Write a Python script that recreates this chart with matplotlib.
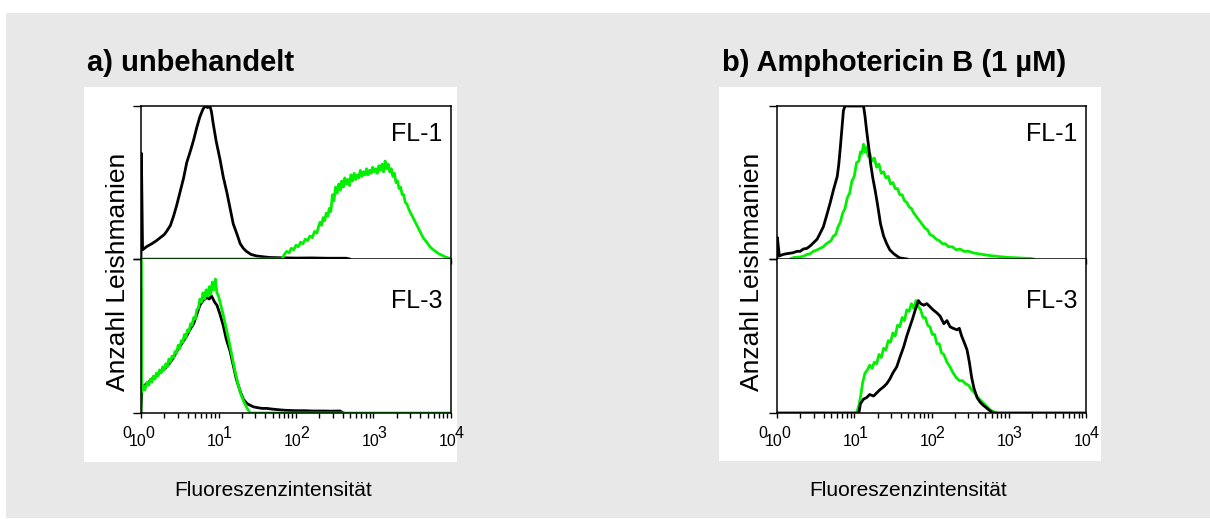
import matplotlib
matplotlib.use("Agg")
import matplotlib.pyplot as plt
import numpy as np
from matplotlib.patches import Rectangle
from matplotlib.transforms import offset_copy

plt.rcParams['font.family'] = ['Liberation Sans', 'DejaVu Sans']

# histogram traces, x in decades (log10 of intensity), y as fraction of panel height
# a) unbehandelt, FL-1
a1_black_x = [0, 0.005, 0.02, 0.07, 0.14, 0.2, 0.25, 0.3, 0.33, 0.38, 0.42, 0.46, 0.5, 0.55, 0.59, 0.64, 0.68, 0.72, 0.76, 0.8, 0.83, 0.86, 0.89, 0.91, 0.93, 0.97, 1.02, 1.06, 1.11, 1.15, 1.19, 1.24, 1.28, 1.32, 1.36, 1.42, 1.49, 1.57, 1.66, 1.8, 2.0, 2.2, 2.4, 2.65, 2.69]
a1_black_y = [0, 0.69, 0.06, 0.08, 0.10, 0.12, 0.14, 0.16, 0.18, 0.22, 0.28, 0.35, 0.43, 0.53, 0.63, 0.71, 0.78, 0.86, 0.93, 0.98, 1.0, 0.99, 1.0, 0.96, 0.89, 0.77, 0.65, 0.54, 0.43, 0.33, 0.23, 0.16, 0.10, 0.07, 0.05, 0.03, 0.02, 0.015, 0.01, 0.008, 0.006, 0.007, 0.005, 0.005, 0]
a1_green_x = [0, 1.82, 1.85, 1.88, 1.91, 1.94, 1.97, 2.0, 2.03, 2.06, 2.09, 2.12, 2.15, 2.18, 2.21, 2.24, 2.27,
              2.29, 2.31, 2.33, 2.35, 2.37, 2.39, 2.41, 2.43, 2.45, 2.47, 2.49, 2.51, 2.53, 2.55, 2.57, 2.59, 2.61, 2.63, 2.65, 2.67, 2.69,
              2.71, 2.73, 2.75, 2.77, 2.79, 2.81, 2.83, 2.85, 2.87, 2.89, 2.91, 2.93, 2.95, 2.97, 2.99, 3.01, 3.03, 3.05, 3.07, 3.09,
              3.11, 3.13, 3.15, 3.17, 3.19, 3.21, 3.23, 3.25, 3.27, 3.29, 3.31, 3.33, 3.35, 3.37, 3.39, 3.41, 3.43,
              3.46, 3.49, 3.52, 3.55, 3.58, 3.61, 3.64, 3.67, 3.7, 3.73, 3.76, 3.8, 3.84, 3.88, 3.92, 3.96, 3.99, 4.0]
a1_green_y = [0, 0, 0.03, 0.05, 0.04, 0.07, 0.06, 0.09, 0.08, 0.11, 0.10, 0.13, 0.12, 0.15, 0.14, 0.18, 0.17,
              0.21, 0.24, 0.22, 0.27, 0.25, 0.30, 0.28, 0.33, 0.31, 0.42, 0.38, 0.47, 0.43, 0.49, 0.45, 0.51, 0.47, 0.53, 0.49, 0.52, 0.48,
              0.55, 0.51, 0.56, 0.52, 0.55, 0.53, 0.58, 0.54, 0.57, 0.55, 0.59, 0.55, 0.58, 0.56, 0.60, 0.57, 0.59, 0.56, 0.61, 0.58,
              0.62, 0.57, 0.64, 0.59, 0.62, 0.57, 0.59, 0.54, 0.56, 0.50, 0.51, 0.46, 0.47, 0.42, 0.42, 0.37, 0.36,
              0.32, 0.29, 0.26, 0.23, 0.20, 0.17, 0.14, 0.12, 0.10, 0.08, 0.065, 0.05, 0.035, 0.025, 0.015, 0.008, 0.004, 0]

# a) unbehandelt, FL-3
a3_black_x = [0, 0.01, 0.03, 0.07, 0.12, 0.16, 0.2, 0.25, 0.29, 0.33, 0.38, 0.42, 0.46, 0.5, 0.55, 0.59, 0.63, 0.68, 0.72, 0.76, 0.8, 0.85, 0.88, 0.91, 0.95, 0.98, 1.02, 1.06, 1.1, 1.15, 1.19, 1.23, 1.28, 1.32, 1.37, 1.41, 1.45, 1.5, 1.56, 1.62, 1.7, 1.8, 1.88, 2.0, 2.1, 2.22, 2.35, 2.45, 2.57, 2.61]
a3_black_y = [0, 0.15, 0.17, 0.19, 0.21, 0.23, 0.24, 0.27, 0.28, 0.30, 0.33, 0.36, 0.40, 0.43, 0.47, 0.50, 0.54, 0.58, 0.64, 0.70, 0.73, 0.75, 0.74, 0.76, 0.72, 0.70, 0.64, 0.57, 0.48, 0.40, 0.31, 0.22, 0.14, 0.09, 0.06, 0.05, 0.04, 0.035, 0.03, 0.03, 0.025, 0.02, 0.017, 0.015, 0.015, 0.013, 0.013, 0.012, 0.013, 0]
a3_green_x = [0, 0, 0.01, 0.03, 0.05, 0.08, 0.1, 0.12, 0.14, 0.16, 0.18, 0.2, 0.22, 0.24, 0.26, 0.28, 0.3, 0.32, 0.34, 0.36, 0.38, 0.4, 0.42, 0.44, 0.46, 0.48, 0.5, 0.52, 0.54, 0.56, 0.58, 0.6, 0.62, 0.64, 0.66, 0.68, 0.7, 0.72, 0.74, 0.76, 0.78, 0.8, 0.82, 0.84, 0.86, 0.88, 0.9, 0.92, 0.94, 0.96, 0.98, 1.0, 1.03, 1.06, 1.09, 1.13, 1.17, 1.21, 1.25, 1.29, 1.33, 1.37, 1.41, 4.0]
a3_green_y = [0, 1.05, 0.14, 0.18, 0.15, 0.20, 0.18, 0.22, 0.20, 0.24, 0.22, 0.26, 0.24, 0.28, 0.26, 0.30, 0.28, 0.32, 0.30, 0.35, 0.33, 0.37, 0.36, 0.40, 0.39, 0.44, 0.42, 0.47, 0.46, 0.51, 0.49, 0.54, 0.53, 0.58, 0.57, 0.62, 0.61, 0.67, 0.68, 0.74, 0.72, 0.78, 0.74, 0.80, 0.76, 0.82, 0.77, 0.85, 0.80, 0.87, 0.78, 0.76, 0.70, 0.64, 0.57, 0.48, 0.38, 0.28, 0.19, 0.12, 0.07, 0.03, 0.0, 0.0]

# b) Amphotericin B, FL-1
b1_black_x = [0, 0.005, 0.03, 0.08, 0.13, 0.2, 0.26, 0.3, 0.34, 0.39, 0.44, 0.48, 0.52, 0.56, 0.6, 0.64, 0.69, 0.73, 0.78, 0.8, 0.82, 0.84, 0.86, 0.88, 1.12, 1.14, 1.16, 1.19, 1.21, 1.24, 1.27, 1.3, 1.34, 1.38, 1.42, 1.46, 1.51, 1.55, 1.59, 1.68]
b1_black_y = [0, 0.14, 0.02, 0.03, 0.035, 0.04, 0.05, 0.05, 0.065, 0.07, 0.09, 0.11, 0.13, 0.17, 0.21, 0.28, 0.37, 0.45, 0.54, 0.62, 0.73, 0.85, 0.97, 1.0, 1.0, 0.93, 0.84, 0.72, 0.63, 0.53, 0.45, 0.36, 0.23, 0.15, 0.10, 0.06, 0.035, 0.02, 0.007, 0]
b1_green_x = [0.17, 0.22, 0.26, 0.3, 0.35, 0.39, 0.43, 0.47, 0.52, 0.56, 0.6, 0.64, 0.67, 0.7, 0.73, 0.76, 0.79, 0.82, 0.85, 0.88, 0.91, 0.94, 0.97, 1.0, 1.03, 1.06, 1.08, 1.1, 1.12, 1.14, 1.16, 1.18, 1.2, 1.23, 1.26, 1.29, 1.32, 1.35, 1.38, 1.41, 1.44, 1.47, 1.5, 1.53, 1.56, 1.59, 1.62, 1.65, 1.68, 1.71, 1.74, 1.77, 1.8, 1.83, 1.86, 1.89, 1.92, 1.95, 1.98, 2.02, 2.06, 2.1, 2.14, 2.18, 2.22, 2.27, 2.32, 2.37, 2.42, 2.48, 2.54, 2.6, 2.66, 2.72, 2.8, 2.89, 3.0, 3.1, 3.2, 3.28, 3.32]
b1_green_y = [0, 0.01, 0.012, 0.013, 0.02, 0.03, 0.035, 0.05, 0.06, 0.07, 0.08, 0.10, 0.11, 0.12, 0.15, 0.16, 0.21, 0.24, 0.30, 0.33, 0.40, 0.43, 0.51, 0.54, 0.63, 0.64, 0.70, 0.69, 0.75, 0.70, 0.73, 0.67, 0.69, 0.64, 0.66, 0.60, 0.62, 0.56, 0.57, 0.53, 0.54, 0.49, 0.50, 0.46, 0.46, 0.42, 0.42, 0.38, 0.37, 0.34, 0.33, 0.30, 0.28, 0.26, 0.24, 0.22, 0.20, 0.19, 0.16, 0.15, 0.13, 0.12, 0.10, 0.10, 0.08, 0.08, 0.06, 0.065, 0.05, 0.05, 0.04, 0.035, 0.03, 0.025, 0.02, 0.015, 0.01, 0.008, 0.005, 0.004, 0]

# b) Amphotericin B, FL-3
b3_black_x = [0, 1.06, 1.08, 1.12, 1.16, 1.2, 1.25, 1.29, 1.33, 1.38, 1.42, 1.46, 1.5, 1.55, 1.59, 1.64, 1.68, 1.72, 1.76, 1.79, 1.83, 1.86, 1.9, 1.94, 1.98, 2.02, 2.07, 2.11, 2.16, 2.2, 2.24, 2.28, 2.33, 2.36, 2.39, 2.43, 2.46, 2.49, 2.52, 2.55, 2.59, 2.63, 2.67, 2.72, 2.76, 2.8, 4.0]
b3_black_y = [0, 0, 0.06, 0.09, 0.10, 0.12, 0.11, 0.13, 0.15, 0.17, 0.19, 0.22, 0.26, 0.30, 0.36, 0.43, 0.50, 0.56, 0.62, 0.67, 0.73, 0.71, 0.70, 0.71, 0.69, 0.67, 0.65, 0.63, 0.58, 0.60, 0.56, 0.55, 0.54, 0.55, 0.50, 0.45, 0.41, 0.33, 0.23, 0.16, 0.10, 0.07, 0.05, 0.03, 0.013, 0, 0]
b3_green_x = [1.03, 1.06, 1.08, 1.11, 1.14, 1.17, 1.2, 1.23, 1.26, 1.29, 1.32, 1.35, 1.38, 1.41, 1.44, 1.47, 1.5, 1.53, 1.56, 1.59, 1.62, 1.65, 1.68, 1.71, 1.74, 1.77, 1.8, 1.83, 1.86, 1.89, 1.92, 1.95, 1.98, 2.01, 2.04, 2.07, 2.1, 2.13, 2.16, 2.2, 2.24, 2.28, 2.32, 2.36, 2.4, 2.44, 2.48, 2.52, 2.56, 2.6, 2.64, 2.68, 2.72, 2.76, 2.8, 2.84]
b3_green_y = [0, 0.05, 0.10, 0.20, 0.26, 0.28, 0.31, 0.29, 0.33, 0.32, 0.38, 0.36, 0.42, 0.41, 0.47, 0.46, 0.52, 0.50, 0.57, 0.56, 0.62, 0.60, 0.67, 0.66, 0.71, 0.68, 0.73, 0.69, 0.67, 0.62, 0.62, 0.57, 0.56, 0.51, 0.51, 0.45, 0.45, 0.39, 0.38, 0.33, 0.30, 0.26, 0.23, 0.21, 0.21, 0.19, 0.18, 0.15, 0.13, 0.10, 0.08, 0.06, 0.04, 0.02, 0.01, 0]

titles = ['a) unbehandelt', 'b) Amphotericin B (1 µM)']
channels = ['FL-1', 'FL-3']
decades = [0, 1, 2, 3, 4]
ylabel = 'Anzahl Leishmanien'
xlabel = 'Fluoreszenzintensität'

GREEN = '#00f000'
W, H = 1210, 519

fig = plt.figure(figsize=(W / 100, H / 100), dpi=100)
fig.patch.set_facecolor('white')

def fx(x):
    return x / W

def fy(y):
    return 1 - y / H

def rect(x0, y0, x1, y1, color):
    fig.patches.append(Rectangle((fx(x0), fy(y1)), fx(x1 - x0), (y1 - y0) / H,
                                 transform=fig.transFigure, facecolor=color,
                                 edgecolor='none', zorder=-10))

# grey background and white panel cards
rect(6, 13, 1210, 518, '#e8e8e8')
rect(84, 87, 457, 462, 'white')
rect(719, 87, 1101, 461, 'white')

panels = [
    dict(left=141, right=451, title_x=87, ylab_x=118, xlab_x=273,
         top=[(a1_black_x, a1_black_y, 'k'), (a1_green_x, a1_green_y, GREEN)],
         low=[(a3_black_x, a3_black_y, 'k'), (a3_green_x, a3_green_y, GREEN)]),
    dict(left=777, right=1086, title_x=722, ylab_x=752, xlab_x=908,
         top=[(b1_green_x, b1_green_y, GREEN), (b1_black_x, b1_black_y, 'k')],
         low=[(b3_green_x, b3_green_y, GREEN), (b3_black_x, b3_black_y, 'k')]),
]

y_top, y_mid, y_bot = 106, 259, 413

for p, title in zip(panels, titles):
    w = fx(p['right'] - p['left'])
    ax_up = fig.add_axes([fx(p['left']), fy(y_mid), w, (y_mid - y_top) / H])
    ax_lo = fig.add_axes([fx(p['left']), fy(y_bot), w, (y_bot - y_mid) / H])

    for ax, traces, ch, chy in [(ax_up, p['top'], channels[0], 0.82),
                                (ax_lo, p['low'], channels[1], 0.73)]:
        for xs, ys, c in traces:
            ax.plot(10 ** np.array(xs), ys, color=c, lw=2.0, solid_joinstyle='round')
        ax.set_xscale('log')
        ax.set_xlim(1, 1e4)
        ax.set_ylim(0, 1)
        ax.set_yticks([0, 1])
        ax.set_yticklabels([])
        ax.tick_params(axis='y', which='both', direction='out', length=6, width=1, left=True)
        ax.tick_params(axis='x', which='both', direction='out', length=3.8, width=1,
                       bottom=True, top=False, labelbottom=False)
        for s in ax.spines.values():
            s.set_linewidth(1.1)
        ax.text(0.971, chy, ch, transform=ax.transAxes, ha='right', va='center', fontsize=18)
    ax_lo.spines['top'].set_visible(False)

    # decade labels drawn like the original scan: "10" with an offset exponent
    base = ax_lo.get_xaxis_transform()
    for k in decades:
        ax_lo.text(10 ** k, 0, '10', ha='center', va='top', fontsize=11.5,
                   transform=offset_copy(base, fig=fig, x=-3, y=-21, units='dots'))
        ax_lo.text(10 ** k, 0, str(k), ha='left', va='top', fontsize=11.5,
                   transform=offset_copy(base, fig=fig, x=4, y=-13, units='dots'))
    ax_lo.text(1, 0, '0', ha='right', va='top', fontsize=11.5,
               transform=offset_copy(base, fig=fig, x=-10, y=-13, units='dots'))

    fig.text(fx(p['title_x']), fy(71), title, fontsize=21, fontweight='bold',
             ha='left', va='baseline')
    fig.text(fx(p['ylab_x']), fy(272), ylabel, rotation=90, fontsize=19,
             ha='center', va='center')
    fig.text(fx(p['xlab_x']), fy(491), xlabel, fontsize=15, ha='center', va='center')

fig.savefig('out.png', dpi=100, facecolor=fig.get_facecolor())
